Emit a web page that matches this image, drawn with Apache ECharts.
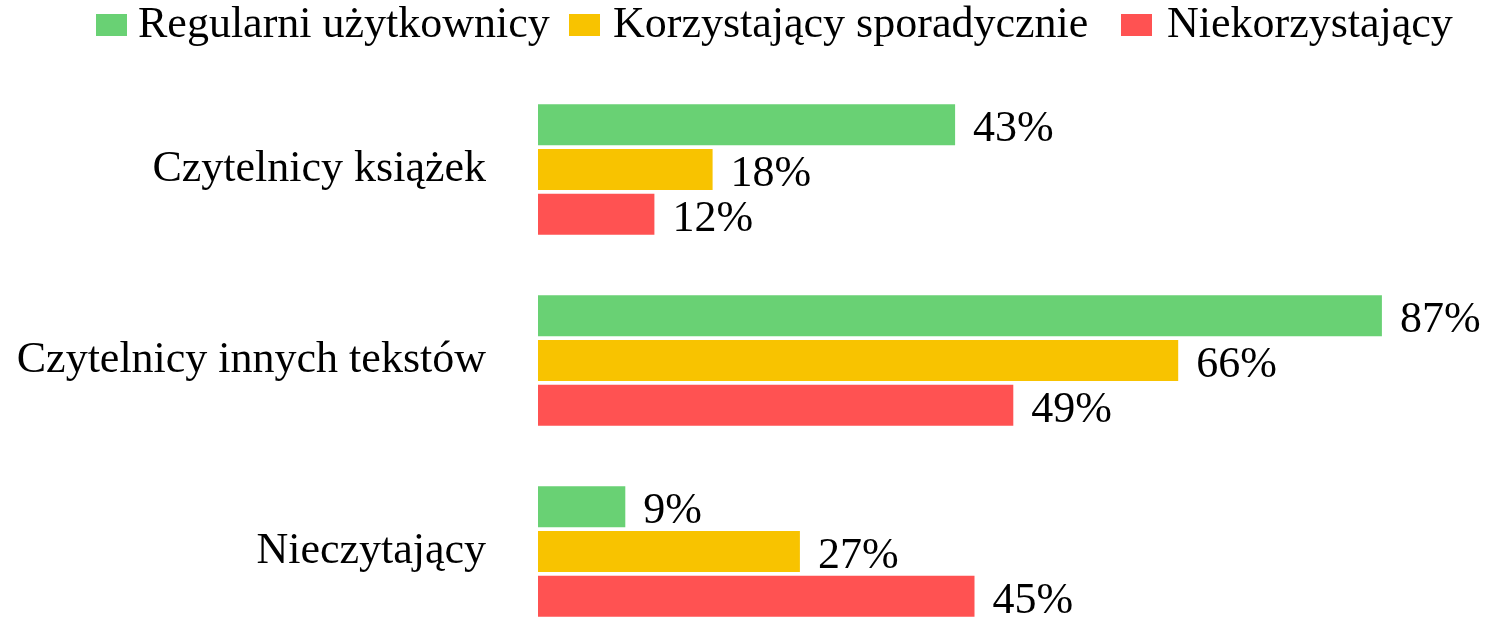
<!DOCTYPE html>
<html>
<head>
<meta charset="utf-8">
<script src="https://cdn.jsdelivr.net/npm/echarts@6/dist/echarts.min.js"></script>
<style>
  html, body { margin: 0; padding: 0; background: #fff; }
  #container { width: 1489px; height: 617px; }
</style>
</head>
<body>
<div id="container"></div>
<script>
  // dane
  const categories = ['Czytelnicy książek', 'Czytelnicy innych tekstów', 'Nieczytający']
  const seriesNames = ['Regularni użytkownicy', 'Korzystający sporadycznie', 'Niekorzystający']
  const regularni = [43, 87, 9]
  const sporadyczni = [18, 66, 27]
  const niekorzystajacy = [12, 49, 45]
  const colors = ['#69d174', '#f8c300', '#ff5252']

  const font = 'Liberation Serif'
  const myChart = echarts.init(document.getElementById('container'))

  const makeSeries = (name, data) => ({
    name,
    type: 'bar',
    data,
    barWidth: 41,
    barGap: '9%',
    label: {
      show: true,
      position: 'right',
      distance: 18,
      offset: [0, 5],
      formatter: '{c}%',
      color: '#000',
      fontFamily: font,
      fontSize: 44
    }
  })

  // odstępy w legendzie nie są równe w oryginale, więc każda pozycja osobno
  const legendLeft = [91, 564, 1116]
  const legendTextGap = [6, 8, 10]
  const legends = seriesNames.map((name, i) => ({
    top: 0,
    left: legendLeft[i],
    padding: [3, 5],
    itemWidth: 31,
    itemHeight: 22,
    icon: 'rect',
    textStyle: { color: '#000', fontFamily: font, fontSize: 44, padding: [0, 0, 0, legendTextGap[i]] },
    data: [name]
  }))

  const option = {
    animation: false,
    color: colors,
    legend: legends,
    // siatka wychodzi poza dolną krawędź, jak w oryginale
    grid: { left: 538, width: 970, top: 74, height: 573, outerBoundsMode: 'none' },
    xAxis: { type: 'value', min: 0, max: 100, show: false },
    yAxis: {
      type: 'category',
      inverse: true,
      data: categories,
      axisLine: { show: false },
      axisTick: { show: false },
      axisLabel: { color: '#000', fontFamily: font, fontSize: 44, margin: 52, padding: [0, 0, 6, 0] }
    },
    series: [
      makeSeries(seriesNames[0], regularni),
      makeSeries(seriesNames[1], sporadyczni),
      makeSeries(seriesNames[2], niekorzystajacy)
    ]
  }
  option && myChart.setOption(option)
</script>
</body>
</html>
